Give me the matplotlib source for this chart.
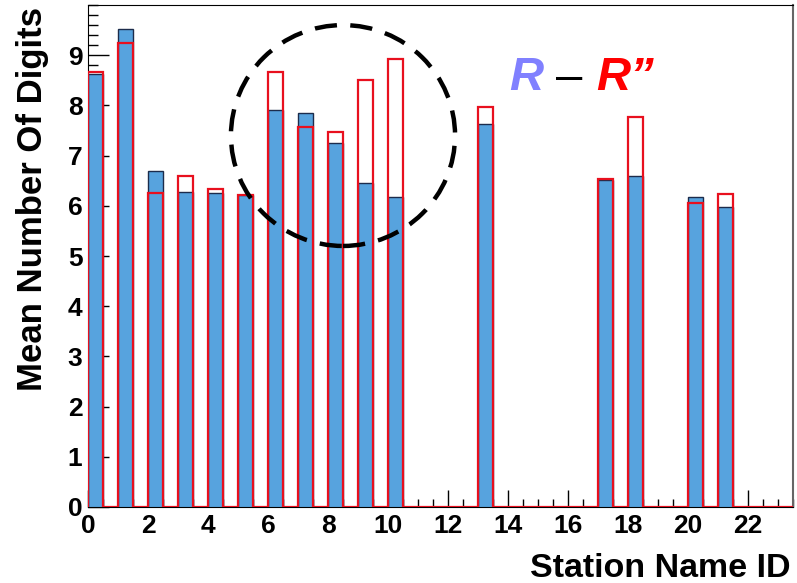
import numpy as np
import matplotlib.pyplot as plt
from matplotlib.patches import Ellipse
from matplotlib.ticker import MultipleLocator

plt.rcParams['font.family'] = ['Liberation Sans', 'DejaVu Sans']

# Mean number of digits per station, two reconstructions (0 = no data)
station_id = np.arange(24)
mean_R = [8.63, 9.53, 6.70, 6.27, 6.26, 6.21, 7.90, 7.84, 7.26, 6.46, 6.18, 0, 0,
          7.62, 0, 0, 0, 6.52, 6.59, 0, 6.18, 5.98, 0, 0]
mean_R2 = [8.67, 9.25, 6.26, 6.59, 6.33, 6.22, 8.67, 7.56, 7.48, 8.50, 8.92, 0, 0,
           7.97, 0, 0, 0, 6.53, 7.76, 0, 6.05, 6.24, 0, 0]

# half-width bins: each station fills [i, i+0.5), the other half stays empty
edges = np.arange(0, 24.01, 0.5)
blue_steps = np.zeros(48)
red_steps = np.zeros(48)
blue_steps[0::2] = mean_R
red_steps[0::2] = mean_R2

fig = plt.figure(figsize=(7.97, 5.83), dpi=100)
ax = fig.add_axes([88 / 797, 76 / 583, 705 / 797, 502 / 583])

ax.stairs(blue_steps, edges, fill=True, color='#57a3de', zorder=2)
ax.stairs(blue_steps, edges, color='#1c2c4c', lw=1.0, zorder=3)
ax.stairs(red_steps, edges, color='#e8101e', lw=1.6, zorder=4)

# dashed ring around stations 6-10
ax.add_patch(Ellipse((8.5, 7.40), 7.47, 4.40, fill=False, ec='black',
                     lw=3.2, linestyle=(0, (5, 3)), zorder=5))

ax.set_xlim(0, 23.5)
ax.set_ylim(0, 10)
ax.xaxis.set_major_locator(MultipleLocator(2))
ax.xaxis.set_minor_locator(MultipleLocator(0.5))
ax.yaxis.set_major_locator(MultipleLocator(1))
ax.yaxis.set_minor_locator(MultipleLocator(0.2))
ax.set_yticks(range(10))
ax.tick_params(axis='both', which='both', direction='in', top=False, right=False,
               labelsize=19, width=1)
ax.tick_params(axis='y', which='major', length=15, pad=4)
ax.tick_params(axis='y', which='minor', length=7.5)
ax.tick_params(axis='x', which='major', length=12, pad=5)
ax.tick_params(axis='x', which='minor', length=6)
for lab in ax.get_xticklabels() + ax.get_yticklabels():
    lab.set_fontweight('bold')

for side in ['left', 'top', 'bottom']:
    ax.spines[side].set_color('black')
ax.spines['right'].set_color('#666666')
ax.spines['right'].set_linewidth(1.5)

fig.text(33 / 797, 1 - 199 / 583, 'Mean Number Of Digits', rotation=90,
         ha='center', va='center', fontsize=25, fontweight='bold')
fig.text(790 / 797, 1 - 577 / 583, 'Station Name ID', ha='right',
         va='baseline', fontsize=24.5, fontweight='bold')

# "R - R''" tag
fig.text(509 / 797, 1 - 90 / 583, 'R', color='#8080ff', fontsize=34,
         fontweight='bold', fontstyle='italic', va='baseline')
fig.text(556 / 797, 1 - 90 / 583, '\u2013', color='black', fontsize=34,
         va='baseline')
fig.text(596 / 797, 1 - 90 / 583, 'R\u201d', color='#ff0000', fontsize=34,
         fontweight='bold', fontstyle='italic', va='baseline')

fig.savefig('out.png', dpi=100)
